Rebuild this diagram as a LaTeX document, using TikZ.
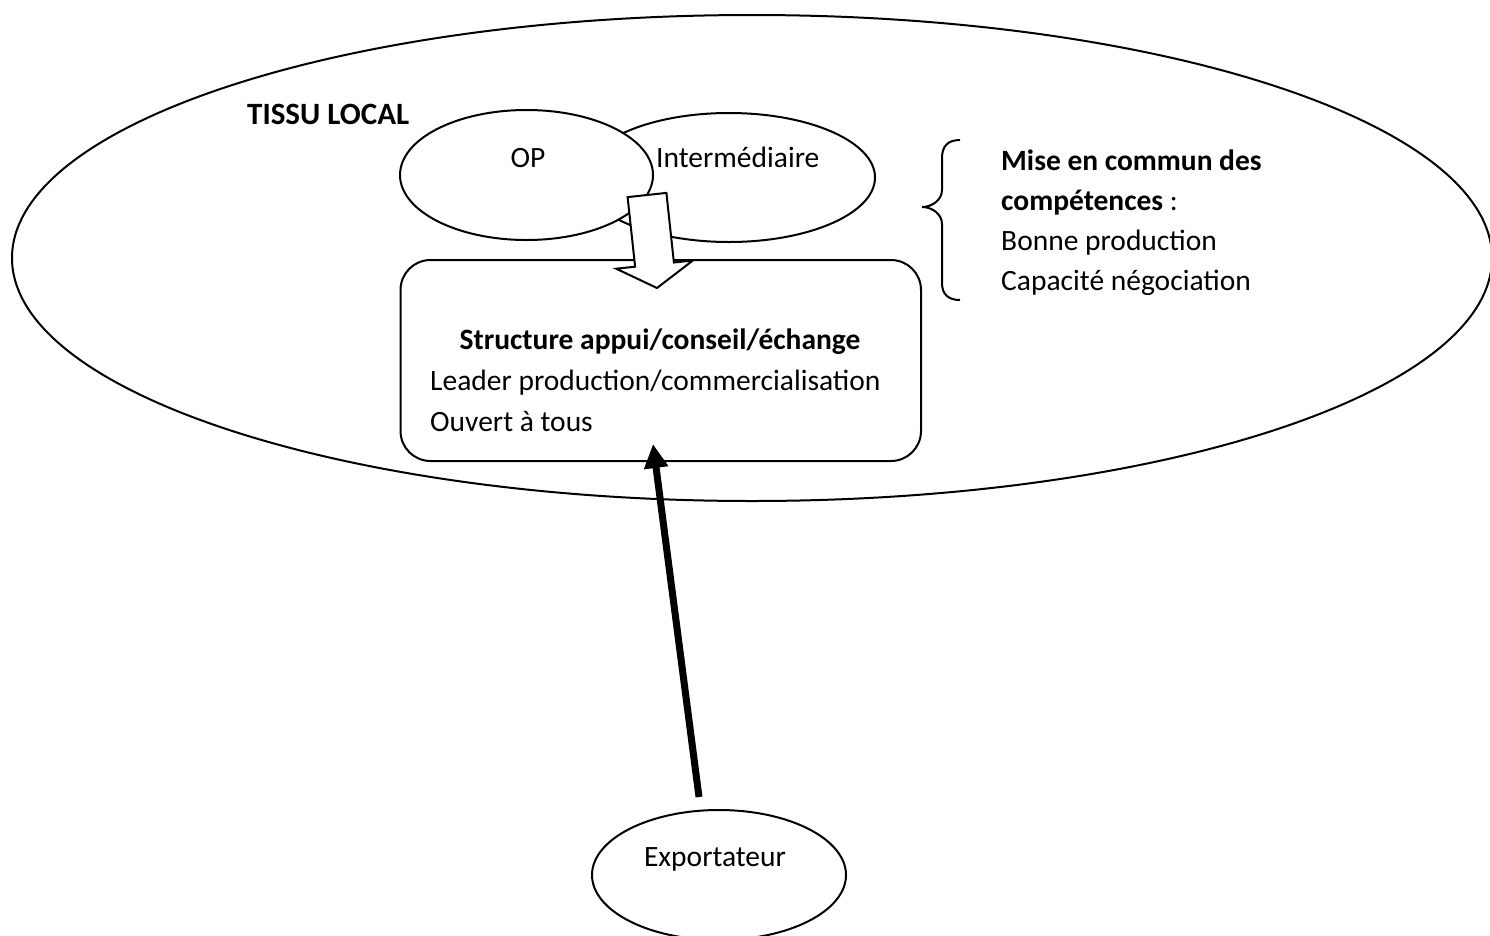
\documentclass[tikz,border=0pt]{standalone}
\usepackage{fontspec}
\setmainfont{Carlito}
\usetikzlibrary{shapes.geometric,arrows.meta}
\begin{document}
\begin{tikzpicture}[x=1pt,y=-1pt,
  outl/.style={draw=black,line width=2pt},
  ell/.style={outl,ellipse,inner sep=0pt,fill=white},
  txt/.style={inner sep=0pt,font=\fontsize{29.5}{41}\selectfont},
  btxt/.style={txt,font=\fontsize{29.5}{41}\selectfont\bfseries}]
\useasboundingbox (0,0) rectangle (1490,935);
% container
\node[ell,fill=none,minimum width=1480pt,minimum height=486pt] (tissu) at (752,258) {};
\node[btxt,font=\fontsize{31}{41}\selectfont\bfseries,anchor=base west] (tissutxt) at (247,124) {TISSU LOCAL};
% ellipses
\node[ell,minimum width=292pt,minimum height=129pt] (inter) at (729,177.5) {};
\node[ell,minimum width=253pt,minimum height=130pt] (op) at (526.5,175) {};
\node[txt,anchor=base] (optxt) at (528,167) {OP};
\node[txt,anchor=base west] (intertxt) at (656,167) {Intermédiaire};
% box
\node[outl,fill=white,rounded corners=30pt,minimum width=520.5pt,minimum height=201pt,inner sep=0pt] (box) at (660.75,360.5) {};
\node[btxt,anchor=base] (boxt1) at (660,349) {Structure appui/conseil/échange};
\node[txt,anchor=base west] (boxt2) at (430,390) {Leader production/commercialisation};
\node[txt,anchor=base west] (boxt3) at (430,431) {Ouvert à tous};
% block arrow
\coordinate (b1) at (627.6,197.1);
\coordinate (b2) at (666.4,192.9);
\coordinate (b3) at (673.9,262.5);
\coordinate (b4) at (692.8,260.5);
\coordinate (b5) at (657,288);
\coordinate (b6) at (616.2,268.7);
\coordinate (b7) at (635.1,266.7);
\draw[outl,fill=white,line join=miter] (b1) -- (b2) -- (b3) -- (b4) -- (b5) -- (b6) -- (b7) -- cycle;
% brace
\coordinate (br1) at (960,140);
\coordinate (br2) at (922,207);
\coordinate (br3) at (960,300);
\draw[outl] (br1) .. controls (948,140) and (942,146) .. (942,158) -- (942,190)
  .. controls (942,200) and (932,207) .. (br2)
  .. controls (932,207) and (942,214) .. (942,224) -- (942,283)
  .. controls (942,294) and (948,300) .. (br3);
\node[txt,anchor=base west] (c1) at (1001,170) {\bfseries Mise en commun des};
\node[txt,anchor=base west] (c2) at (1001,210) {\textbf{compétences} :};
\node[txt,anchor=base west] (c3) at (1001,250) {Bonne production};
\node[txt,anchor=base west] (c4) at (1001,290) {Capacité négociation};
% exportateur
\node[ell,minimum width=254pt,minimum height=130pt] (exp) at (719,875) {};
\node[txt,anchor=base] (exptxt) at (715,866) {Exportateur};
% thick arrow
\coordinate (a1) at (699,797);
\coordinate (a2) at (653,444);
\draw[line width=7pt,-{Triangle[length=24pt,width=23pt]}] (a1) -- (a2);
\end{tikzpicture}
\end{document}
